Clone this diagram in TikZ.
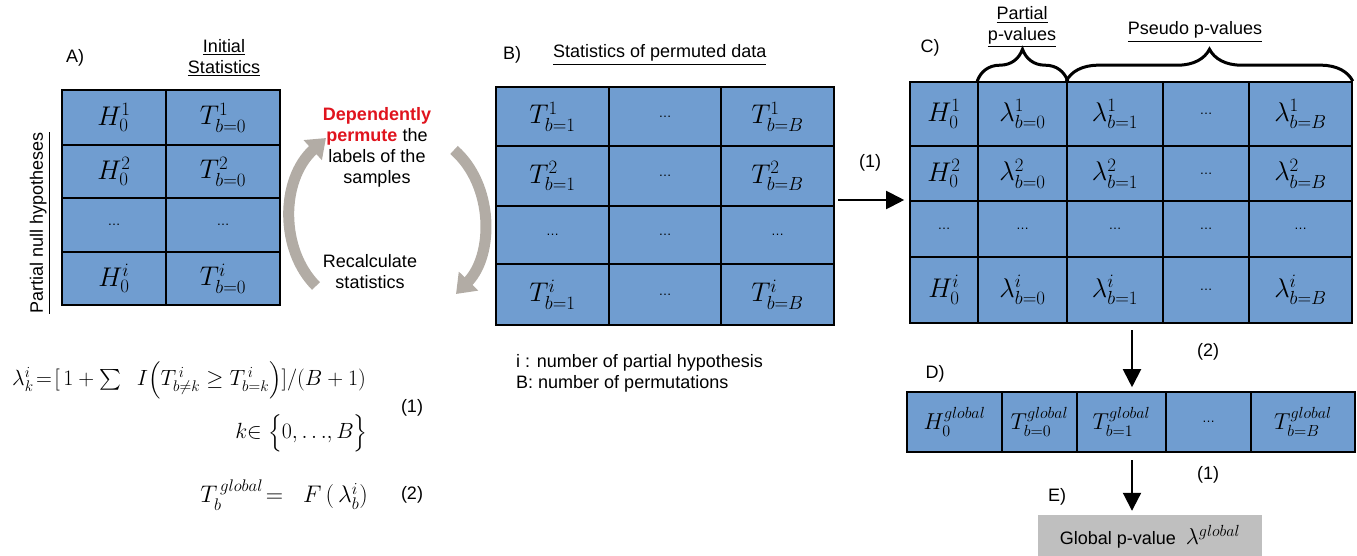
\RequirePackage{fix-cm}
\documentclass[tikz,border=0pt]{standalone}
\usepackage{exscale}
\usepackage{fontspec}
\setmainfont{Liberation Sans}
\usetikzlibrary{arrows.meta,decorations.pathreplacing}
\definecolor{cellblue}{RGB}{112,157,208}
\definecolor{cycgray}{RGB}{178,172,165}
\definecolor{eboxgray}{RGB}{191,191,191}
\definecolor{redtxt}{RGB}{224,20,30}
\newcommand{\dd}{{\fontsize{13}{15}\selectfont\ldots}}
\begin{document}
\begin{tikzpicture}[x=1pt,y=-1pt,
 cell/.style={draw=black, fill=cellblue, line width=1.6pt, inner sep=0pt, font=\fontsize{27}{30}\selectfont},
 dcell/.style={cell, font=\fontsize{23}{26}\selectfont},
 lab/.style={font=\fontsize{18}{21}\selectfont, inner sep=0pt},
 frm/.style={font=\fontsize{22}{26}\selectfont, inner sep=0pt},
 arr/.style={line width=2pt, -{Triangle[length=18pt,width=18pt]}},
 cyc/.style={line width=11pt, draw=cycgray, -{Triangle[length=18pt,width=26pt]}},
 brc/.style={decorate, decoration={brace, amplitude=32pt}, line width=3pt}]
\useasboundingbox (0,0) rectangle (1357,556);

% ---------- Table A
\node[cell, minimum width=104, minimum height=55] (a11) at (114,117.5) {$H^{1}_{0}$};
\node[cell, minimum width=114, minimum height=55] (a12) at (223,117.5) {$T^{1}_{b=0}$};
\node[cell, minimum width=104, minimum height=53] (a21) at (114,171.5) {$H^{2}_{0}$};
\node[cell, minimum width=114, minimum height=53] (a22) at (223,171.5) {$T^{2}_{b=0}$};
\node[cell, minimum width=104, minimum height=54] (a31) at (114,225) {\dd};
\node[cell, minimum width=114, minimum height=54] (a32) at (223,225) {\dd};
\node[cell, minimum width=104, minimum height=53] (a41) at (114,278.5) {$H^{i}_{0}$};
\node[cell, minimum width=114, minimum height=53] (a42) at (223,278.5) {$T^{i}_{b=0}$};

\node[lab] (lA) at (75,58) {A)};
\node[lab, align=center] (lAi) at (224,58) {\underline{Initial}\\\underline{Statistics}};
\node[lab, rotate=90] (lPn) at (40,223) {\underline{Partial null hypotheses}};

% ---------- cycle
\draw[cyc] (316,286) .. controls (280,250) and (280,180) .. (326,138);
\draw[cyc] (454,150) .. controls (494,185) and (494,255) .. (456,294);
\node[lab, align=center] (cyct) at (377,147) {\textcolor{redtxt}{\textbf{Dependently}}\\\textcolor{redtxt}{\textbf{permute}} the\\labels of the\\samples};
\node[lab, align=center] (recal) at (370,272) {Recalculate\\statistics};

% ---------- Table B
\node[cell, minimum width=113, minimum height=59] (b11) at (552.5,116.5) {$T^{1}_{b=1}$};
\node[cell, minimum width=112, minimum height=59] (b12) at (665,116.5) {\dd};
\node[cell, minimum width=113, minimum height=59] (b13) at (777.5,116.5) {$T^{1}_{b=B}$};
\node[cell, minimum width=113, minimum height=60] (b21) at (552.5,176) {$T^{2}_{b=1}$};
\node[cell, minimum width=112, minimum height=60] (b22) at (665,176) {\dd};
\node[cell, minimum width=113, minimum height=60] (b23) at (777.5,176) {$T^{2}_{b=B}$};
\node[cell, minimum width=113, minimum height=58] (b31) at (552.5,235) {\dd};
\node[cell, minimum width=112, minimum height=58] (b32) at (665,235) {\dd};
\node[cell, minimum width=113, minimum height=58] (b33) at (777.5,235) {\dd};
\node[cell, minimum width=113, minimum height=61] (b41) at (552.5,294.5) {$T^{i}_{b=1}$};
\node[cell, minimum width=112, minimum height=61] (b42) at (665,294.5) {\dd};
\node[cell, minimum width=113, minimum height=61] (b43) at (777.5,294.5) {$T^{i}_{b=B}$};

\node[lab] (lB) at (512,55) {B)};
\node[lab, anchor=west] (lBs) at (553,55) {\underline{Statistics of permuted data}};
\node[lab, align=left, anchor=west] (notes) at (516,373) {i : number of partial hypothesis\\B: number of permutations};

% ---------- Table C
\node[cell, minimum width=68, minimum height=64] (c11) at (944,114) {$H^{1}_{0}$};
\node[cell, minimum width=89, minimum height=64] (c12) at (1022.5,114) {$\lambda^{1}_{b=0}$};
\node[cell, minimum width=96, minimum height=64] (c13) at (1115,114) {$\lambda^{1}_{b=1}$};
\node[cell, minimum width=86, minimum height=64] (c14) at (1206,114) {\dd};
\node[cell, minimum width=103, minimum height=64] (c15) at (1300.5,114) {$\lambda^{1}_{b=B}$};
\node[cell, minimum width=68, minimum height=55] (c21) at (944,173.5) {$H^{2}_{0}$};
\node[cell, minimum width=89, minimum height=55] (c22) at (1022.5,173.5) {$\lambda^{2}_{b=0}$};
\node[cell, minimum width=96, minimum height=55] (c23) at (1115,173.5) {$\lambda^{2}_{b=1}$};
\node[cell, minimum width=86, minimum height=55] (c24) at (1206,173.5) {\dd};
\node[cell, minimum width=103, minimum height=55] (c25) at (1300.5,173.5) {$\lambda^{2}_{b=B}$};
\node[cell, minimum width=68, minimum height=56] (c31) at (944,229) {\dd};
\node[cell, minimum width=89, minimum height=56] (c32) at (1022.5,229) {\dd};
\node[cell, minimum width=96, minimum height=56] (c33) at (1115,229) {\dd};
\node[cell, minimum width=86, minimum height=56] (c34) at (1206,229) {\dd};
\node[cell, minimum width=103, minimum height=56] (c35) at (1300.5,229) {\dd};
\node[cell, minimum width=68, minimum height=66] (c41) at (944,290) {$H^{i}_{0}$};
\node[cell, minimum width=89, minimum height=66] (c42) at (1022.5,290) {$\lambda^{i}_{b=0}$};
\node[cell, minimum width=96, minimum height=66] (c43) at (1115,290) {$\lambda^{i}_{b=1}$};
\node[cell, minimum width=86, minimum height=66] (c44) at (1206,290) {\dd};
\node[cell, minimum width=103, minimum height=66] (c45) at (1300.5,290) {$\lambda^{i}_{b=B}$};

\node[lab] (lC) at (930,48) {C)};
\node[lab, align=center] (lCp) at (1022,27) {\underline{Partial}\\\underline{p-values}};
\node[lab] (lCs) at (1195,32) {\underline{Pseudo p-values}};
\draw[brc] (c12.north west) -- (c12.north east);
\draw[brc] (c13.north west) -- (c15.north east);

% ---------- Table D
\node[dcell, minimum width=95, minimum height=60] (d11) at (954.5,422) {$H^{global}_{0}$};
\node[dcell, minimum width=75, minimum height=60] (d12) at (1039.5,422) {$T^{global}_{b=0}$};
\node[dcell, minimum width=89, minimum height=60] (d13) at (1121.5,422) {$T^{global}_{b=1}$};
\node[dcell, minimum width=85, minimum height=60] (d14) at (1208.5,422) {\dd};
\node[dcell, minimum width=104, minimum height=60] (d15) at (1303,422) {$T^{global}_{b=B}$};
\node[lab] (lD) at (935,374) {D)};

% ---------- E
\node[fill=eboxgray, minimum width=224, minimum height=44, inner sep=0pt, font=\fontsize{18}{21}\selectfont] (e) at (1150,537) {Global p-value\ \ {\fontsize{23}{26}\selectfont$\lambda^{global}$}};
\node[lab] (lE) at (1057,497) {E)};

% ---------- arrows
\coordinate (p1) at (838,200);
\draw[arr, shorten >=5pt] (p1) -- (p1 -| c31.west);
\node[lab] (l1) at (870,163) {(1)};
\coordinate (p2) at (1132,330);
\draw[arr, shorten >=4pt] (p2) -- (p2 |- d13.north);
\node[lab] (l2) at (1208,352) {(2)};
\coordinate (p3) at (1132,460);
\draw[arr, shorten >=4pt] (p3) -- (p3 |- e.north);
\node[lab] (l3) at (1208,475) {(1)};

% ---------- formulas
\node[frm, anchor=west] (f1) at (12,380) {$\lambda^{i}_{k}\!=\![\,1+\sum\ \ I\Bigl(T^{\,i}_{b\neq k}\geq T^{\,i}_{b=k}\Bigr)]/(B+1)$};
\node[frm, anchor=east] (f1b) at (368,433) {$k{\in}\ \Bigl\{0,\ldots\!,B\Bigr\}$};
\node[lab] (f1n) at (412,408) {(1)};
\node[frm, font=\fontsize{24}{28}\selectfont, anchor=east] (f2) at (368,495) {$T^{\,global}_{b}\!=\ \ F\,(\,\lambda^{i}_{b})$};
\node[lab] (f2n) at (412,495) {(2)};
\end{tikzpicture}
\end{document}
